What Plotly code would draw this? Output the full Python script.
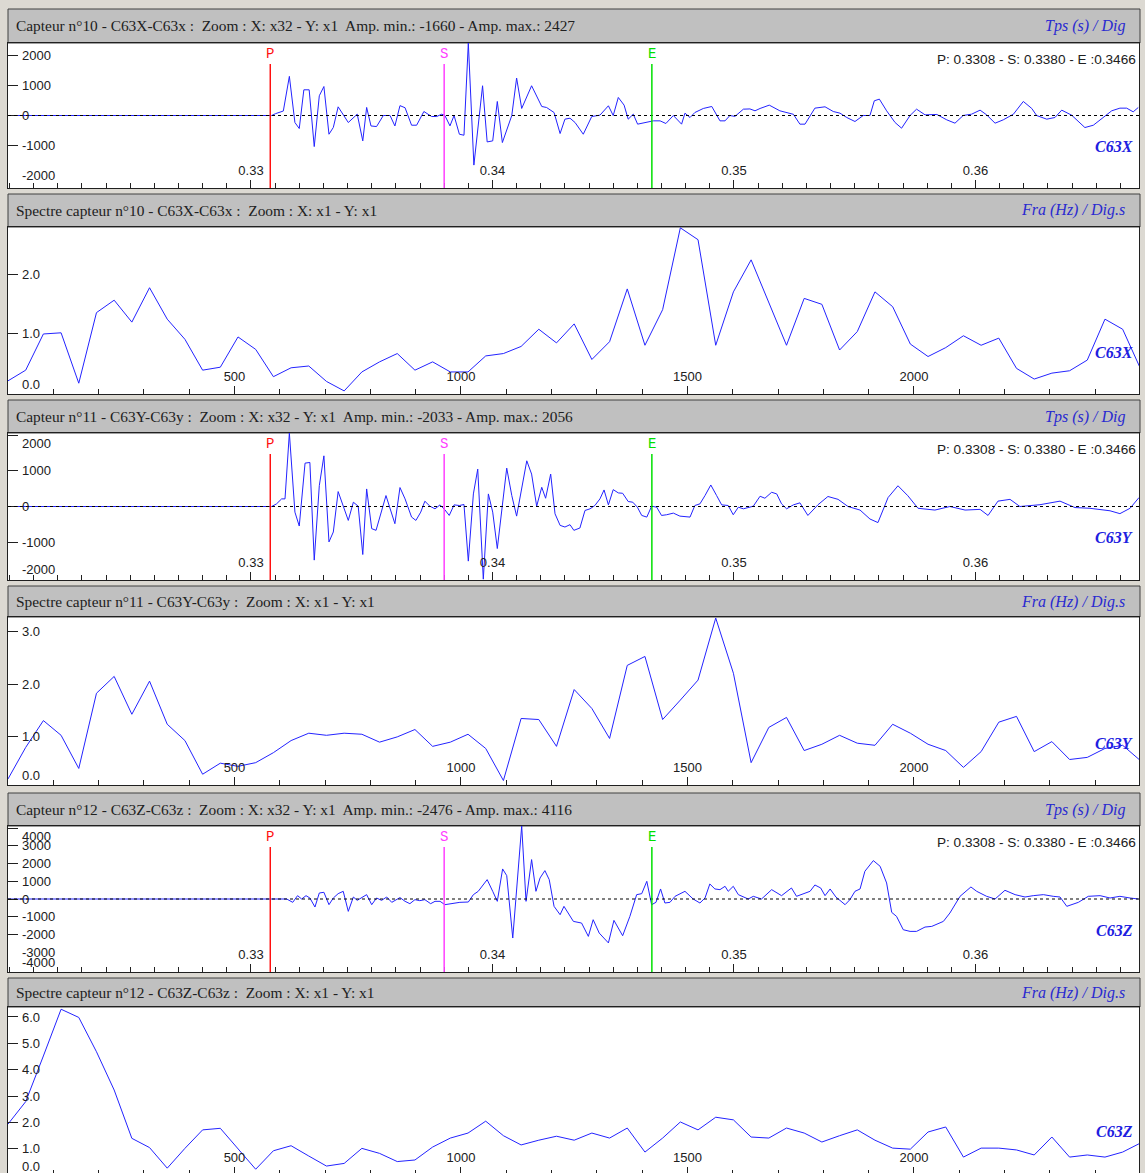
import plotly.graph_objects as go

# ------------------------------------------------------------------ data
PICK_P, PICK_S, PICK_E = 0.3308, 0.3380, 0.3466
T_START, T_END = 0.31994, 0.36677
T_REF = 0.330                      # time vertices below are in ms after T_REF

# sensor 10 (C63X) — vertex times (ms after 0.330 s) and amplitudes (digits)
x_t = [-10.06, 0.86, 1.01, 1.22, 1.34, 1.59, 1.82, 2.0, 2.19, 2.41, 2.62, 2.83, 3.02, 3.23, 3.41,
       3.61, 4.03, 4.40, 4.63, 4.79, 4.97, 5.2, 5.48, 5.76, 5.96, 6.17, 6.38, 6.65, 6.86, 7.16,
       7.48, 7.69, 7.90, 8.03, 8.24, 8.41, 8.63, 8.82, 9.0, 9.23, 9.41, 9.59, 9.78, 10.01, 10.2,
       10.41, 10.80, 11.0, 11.21, 11.62, 12.04, 12.24, 12.55, 12.80, 13.0, 13.21, 13.42, 13.76,
       14.11, 14.45, 14.80, 15.0, 15.21, 15.45, 15.62, 15.83, 16.01, 16.24, 16.66, 16.94, 17.18,
       17.49, 17.83, 17.97, 18.18, 18.38, 18.73, 19.08, 19.42, 19.63, 19.83, 20.04, 20.39, 20.66,
       20.87, 21.08, 21.46, 21.90, 22.11, 22.46, 22.73, 22.94, 23.35, 23.77, 24.11, 24.39, 24.67,
       25.01, 25.35, 25.63, 25.81, 26.02, 26.32, 26.67, 26.94, 27.29, 27.56, 27.91, 28.40, 28.81,
       29.15, 29.49, 29.84, 30.19, 30.46, 30.81, 31.15, 31.57, 31.98, 32.33, 32.53, 32.95, 33.29,
       33.57, 33.98, 34.53, 34.88, 35.29, 35.64, 35.98, 36.26, 36.53, 36.74]
x_amp = [0, 0, 60, 110, 150, 1310, -235, -436, 860, 860, -1040, 660, 970, -627, -400,
         290, -235, 45, -850, 270, -350, -370, 0, 0, -350, 330, 260, -325, -325, 134,
         -34, -34, 45, 0, -347, 0, -627, -660, 2427, -1660, -347, 996, -884, -850, 470,
         -906, 0, 1253, 235, 996, 302, 268, 100, -604, -123, -90, -235, -627,
         -34, 11, 325, 0, 604, 347, -123, 45, -290, -257, -179, -179, -268,
         0, -290, 78, -67, 100, 235, 302, -179, -179, 0, -30, 212, 220,
         157, 235, 347, 157, 110, 40, -290, -290, 246, 291, 134, 78, -67,
         -201, 0, 0, 492, 548, 157, -235, -425, 0, 212, 22, 34, -145,
         -257, 0, 45, 179, 22, -257, -145, 45, 470, 235, 0, -123, -67,
         179, 11, -403, -325, -67, 157, 246, 246, 123, 268]

# sensor 11 (C63Y)
y_t = [-10.06, 0.86, 1.06, 1.27, 1.41, 1.59, 1.82, 2.0, 2.24, 2.44, 2.62, 2.83, 3.02, 3.23, 3.41,
       3.61, 4.03, 4.24, 4.44, 4.63, 4.79, 5.0, 5.18, 5.59, 5.96, 6.17, 6.38, 6.65, 6.83, 7.03,
       7.2, 7.41, 7.62, 7.83, 8.03, 8.21, 8.41, 8.63, 8.82, 9.0, 9.21, 9.39, 9.62, 9.83, 10.01,
       10.2, 10.59, 10.80, 11.0, 11.42, 11.62, 11.83, 12.04, 12.2, 12.41, 12.59, 12.80, 13.0,
       13.21, 13.37, 13.62, 13.83, 14.04, 14.24, 14.45, 14.62, 14.80, 15.0, 15.21, 15.39, 15.62,
       15.81, 16.0, 16.18, 16.39, 16.59, 16.80, 17.0, 17.21, 17.49, 17.76, 18.18, 18.38, 18.59,
       18.80, 19.04, 19.28, 19.49, 19.76, 19.97, 20.18, 20.39, 20.80, 21.08, 21.28, 21.56, 21.77,
       21.97, 22.18, 22.46, 22.73, 23.06, 23.48, 23.89, 24.31, 24.72, 25.22, 25.63, 25.96, 26.38,
       26.79, 27.2, 27.62, 28.32, 28.94, 29.57, 30.19, 30.52, 30.93, 31.43, 31.84, 32.67, 33.5,
       34.12, 34.74, 35.57, 35.98, 36.40, 36.77]
y_amp = [0, 0, 74, 213, 213, 2056, -157, -546, 1213, 1232, -1500, 583, 1417, -991, -713,
         417, -389, 120, 9, -1343, 491, -620, -667, 306, -481, 530, 213, -296, -389, -157,
         148, 9, -65, 46, -93, -250, 46, 28, 56, -1528, 352, 1046, -2033, 352, -157,
         -1176, 1074, 306, -269, 1278, 907, 9, 537, 231, 907, -204, -528, -574,
         -509, -667, -602, -111, -65, 28, 213, 463, 46, 472, 380, 370, 139,
         120, -19, -250, -296, 9, -19, -250, -231, -185, -269, -296, 28, 74,
         306, 602, 306, 46, 28, -231, -19, -65, 9, 287, 231, 398, 352,
         74, -65, 46, 102, -250, 50, 280, 200, 0, -100, -350, -450, 250,
         580, 300, -50, -100, 0, -100, -80, -250, 150, 200, 0, 50, 150,
         -30, -50, -120, -200, -50, 250]

# sensor 12 (C63Z)
z_t = [-10.06, 0.86, 1.48, 1.73, 1.93, 2.10, 2.28, 2.44, 2.65, 2.83, 3.02, 3.23, 3.41, 3.61, 3.82,
       4.03, 4.24, 4.40, 4.58, 4.79, 5.0, 5.2, 5.41, 5.62, 5.83, 6.17, 6.38, 6.58, 6.79, 6.99,
       7.2, 7.44, 7.62, 7.83, 8.03, 8.38, 8.65, 9.0, 9.21, 9.41, 9.78, 10.01, 10.2, 10.42, 10.59,
       10.84, 11.0, 11.21, 11.39, 11.62, 11.80, 11.97, 12.17, 12.35, 12.55, 12.80, 12.96, 13.35,
       13.69, 13.97, 14.17, 14.42, 14.80, 15.03, 15.39, 15.69, 15.97, 16.18, 16.39, 16.59, 16.77,
       16.96, 17.14, 17.35, 17.56, 17.97, 18.31, 18.59, 18.80, 19.0, 19.21, 19.42, 19.63, 19.76,
       19.97, 20.18, 20.59, 20.80, 21.14, 21.56, 21.97, 22.38, 22.59, 22.86, 23.15, 23.35, 23.59,
       23.77, 23.98, 24.22, 24.60, 24.80, 25.01, 25.22, 25.42, 25.77, 26.05, 26.32, 26.53, 26.73,
       27.01, 27.29, 27.56, 27.91, 28.19, 28.67, 28.94, 29.36, 29.81, 30.05, 30.46, 30.81, 31.22,
       31.64, 32.05, 32.39, 32.81, 33.22, 33.5, 33.78, 34.26, 34.67, 35.16, 35.57, 35.98, 36.40,
       36.74]
z_amp = [0, 0, 0, -188, 188, 0, 188, 56, -452, 339, 377, -320, 56, 301, 433,
         -697, 113, -75, 56, 245, -320, 56, -75, 113, -188, 80, -132, -264, -38, -94,
         -38, -264, -132, -132, -320, -226, -188, -170, 245, 433, 1092, 433, -132, 1695, 1318,
         -2200, 716, 4116, -132, 2222, 433, 1186, 1601, 1092, -414, -885, -414, -1262,
         -1356, -2109, -1167, -1921, -2476, -1205, -2071, -979, 245, 301, 998, -320, -188,
         565, -226, -188, 151, 433, 0, -226, 56, 847, 565, 527, 716, 433,
         716, 245, 0, 150, 0, 527, 188, 621, 151, 282, 433, 791, 621,
         188, 565, 113, -320, -38, 433, 565, 1563, 2165, 1845, 904, -753, -979,
         -1732, -1826, -1826, -1582, -1544, -1262, -791, 151, 678, 433, 151, 0, 490,
         245, 113, 188, 245, 151, 113, -414, -188, 151, 188, 56, 151, 56,
         0]

# spectra: 65 bins, 5000 Hz sampling / 128 points
FREQ_STEP = 5000 / 128
spec_x = [0.20, 0.38, 0.99, 1.01, 0.16, 1.35, 1.56, 1.19, 1.77, 1.24, 0.90, 0.38, 0.43, 0.94, 0.73,
          0.27, 0.42, 0.45, 0.19, 0.03, 0.35, 0.52, 0.66, 0.38, 0.52, 0.35, 0.35, 0.62, 0.66, 0.78,
          1.07, 0.84, 1.16, 0.56, 0.86, 1.75, 0.80, 1.40, 2.78, 2.58, 0.80, 1.70, 2.24, 1.51, 0.80,
          1.59, 1.49, 0.72, 1.03, 1.70, 1.45, 0.82, 0.61, 0.76, 0.96, 0.80, 0.92, 0.41, 0.23, 0.33,
          0.37, 0.55, 1.24, 1.07, 0.41]
spec_y = [0.20, 0.80, 1.31, 1.03, 0.40, 1.83, 2.15, 1.43, 2.06, 1.24, 0.93, 0.29, 0.50, 0.44, 0.51,
          0.70, 0.93, 1.07, 1.03, 1.07, 1.05, 0.90, 1.00, 1.14, 0.82, 0.90, 1.05, 0.78, 0.17, 1.35,
          1.33, 0.82, 1.90, 1.54, 0.97, 2.36, 2.53, 1.33, 1.70, 2.08, 3.26, 2.21, 0.51, 1.18, 1.37,
          0.74, 0.86, 1.03, 0.88, 0.84, 1.24, 1.07, 0.86, 0.74, 0.42, 0.72, 1.28, 1.39, 0.72, 0.91,
          0.57, 0.61, 0.78, 0.84, 0.55]
spec_z = [1.94, 2.79, 4.52, 6.29, 5.98, 4.68, 3.23, 1.40, 1.05, 0.27, 1.02, 1.72, 1.78, 0.99, 0.23,
          0.93, 1.12, 0.73, 0.35, 0.45, 1.02, 0.83, 0.52, 0.58, 1.07, 1.41, 1.60, 2.05, 1.50, 1.15,
          1.33, 1.48, 1.33, 1.60, 1.41, 1.79, 0.88, 1.41, 2.02, 1.72, 2.20, 2.10, 1.45, 1.41, 1.79,
          1.60, 1.26, 1.50, 1.72, 1.33, 1.03, 0.99, 1.64, 1.83, 0.69, 1.03, 1.03, 0.96, 0.77, 1.45,
          0.69, 0.77, 0.69, 0.88, 1.22]

# header captions
time_titles = [
    "Capteur n°10 - C63X-C63x :  Zoom : X: x32 - Y: x1  Amp. min.: -1660 - Amp. max.: 2427",
    "Capteur n°11 - C63Y-C63y :  Zoom : X: x32 - Y: x1  Amp. min.: -2033 - Amp. max.: 2056",
    "Capteur n°12 - C63Z-C63z :  Zoom : X: x32 - Y: x1  Amp. min.: -2476 - Amp. max.: 4116",
]
spec_titles = [
    "Spectre capteur n°10 - C63X-C63x :  Zoom : X: x1 - Y: x1",
    "Spectre capteur n°11 - C63Y-C63y :  Zoom : X: x1 - Y: x1",
    "Spectre capteur n°12 - C63Z-C63z :  Zoom : X: x1 - Y: x1",
]
channels = ["C63X", "C63Y", "C63Z"]
amp_limits = [2427, 2056, 4116]
time_ticks = [0.33, 0.34, 0.35, 0.36]
freq_ticks = [500, 1000, 1500, 2000]

# ------------------------------------------------------------------ layout helpers
W, H = 1145, 1173
LEFT, RIGHT = 8, 1139


def px_x(p):
    return p / W


def px_y(p):
    return 1 - p / H


# (header top, plot top, plot bottom, lowest label centre) in pixels for the six panels
panels = [(9, 43, 188, 178), (194, 227, 394, 384), (400, 433, 580, 570),
          (586, 617, 785, 775), (793, 826, 972, 962), (978, 1007, 1173, 1166)]

spec_ranges = [(-0.022, 2.794), (0.085, 3.28), (0.087, 6.375)]

TRACE = dict(color="#2323ff", width=1)
AXIS_COL = "#202020"
TICK_FONT = dict(family="Liberation Sans, Arial", size=13, color="#202020")
HEAD_FONT = dict(family="Liberation Serif, Times New Roman", size=15.4, color="#202020")
UNIT_FONT = dict(family="Liberation Serif, Times New Roman", size=16, color="#2a2ad0", style="italic")
CHAN_FONT = dict(family="Liberation Serif, Times New Roman", size=16, color="#2020e0",
                 style="italic", weight="bold")
PICK_FONT = dict(family="Liberation Mono, Courier New", size=14)

fig = go.Figure()
shapes, annots = [], []
layout = {}

time_series = [(x_t, x_amp), (y_t, y_amp), (z_t, z_amp)]
spectra = [spec_x, spec_y, spec_z]
freqs = [k * FREQ_STEP for k in range(len(spec_x))]


def y_labels(ya, vals, texts, lo, hi, ptop, pbot, low_label):
    """Left-axis tick labels, kept inside the plot frame like the original display."""
    for v, t in zip(vals, texts):
        p = pbot - (v - lo) / (hi - lo) * (pbot - ptop)
        a = dict(xref="paper", x=px_x(20), xanchor="left", yanchor="middle",
                 showarrow=False, text=t, font=TICK_FONT)
        if p < ptop + 10:
            a.update(yref=f"{ya} domain", y=1, yshift=-10)
        elif p > low_label:
            a.update(yref=f"{ya} domain", y=0, yshift=pbot - low_label)
        else:
            a.update(yref=ya, y=v)
        annots.append(a)


for i in range(6):
    n = i + 1
    xa = "x" if n == 1 else f"x{n}"
    ya = "y" if n == 1 else f"y{n}"
    xkey = "xaxis" if n == 1 else f"xaxis{n}"
    ykey = "yaxis" if n == 1 else f"yaxis{n}"
    htop, ptop, pbot, low_label = panels[i]
    ch = i // 2
    is_time = (i % 2 == 0)

    # header bar
    shapes.append(dict(type="rect", xref="paper", yref="paper",
                       x0=px_x(LEFT), x1=px_x(RIGHT + 1), y0=px_y(ptop), y1=px_y(htop),
                       fillcolor="#c0c0c0", line=dict(color="#404040", width=1), layer="below"))
    hmid = px_y((htop + ptop) / 2)
    annots.append(dict(xref="paper", yref="paper", x=px_x(14), y=hmid, xanchor="left",
                       yanchor="middle", showarrow=False,
                       text=time_titles[ch] if is_time else spec_titles[ch], font=HEAD_FONT))
    annots.append(dict(xref="paper", yref="paper", x=px_x(1127), y=hmid, xanchor="right",
                       yanchor="middle", showarrow=False,
                       text="Tps (s) / Dig" if is_time else "Fra (Hz) / Dig.s", font=UNIT_FONT))

    common_x = dict(domain=[px_x(LEFT), px_x(RIGHT)], anchor=ya, showline=True, mirror=True,
                    linecolor=AXIS_COL, linewidth=1, ticks="inside", tickcolor=AXIS_COL,
                    ticklabelposition="inside", ticklabelstandoff=2, tickfont=TICK_FONT,
                    showgrid=False, zeroline=False, fixedrange=True)
    common_y = dict(domain=[px_y(pbot), px_y(ptop)], anchor=xa, showline=True, mirror=True,
                    linecolor=AXIS_COL, linewidth=1, ticks="inside", ticklen=10,
                    tickcolor=AXIS_COL, showticklabels=False,
                    showgrid=False, zeroline=False, fixedrange=True)

    if is_time:
        tt, aa = time_series[ch]
        fig.add_trace(go.Scatter(x=[T_REF + v / 1000 for v in tt], y=aa, mode="lines",
                                 line=TRACE, xaxis=xa, yaxis=ya, hoverinfo="skip"))
        lim = amp_limits[ch]
        top_tick = (lim // 1000) * 1000
        yvals = list(range(-top_tick, top_tick + 1, 1000))
        layout[xkey] = dict(common_x, range=[T_START, T_END], tickvals=time_ticks,
                            tickformat=".2f", ticklen=8,
                            minor=dict(ticks="inside", ticklen=5, dtick=0.001, tick0=0.33,
                                       tickcolor=AXIS_COL))
        layout[ykey] = dict(common_y, range=[-lim, lim], tickvals=yvals)
        y_labels(ya, yvals, [str(v) for v in yvals], -lim, lim, ptop, pbot, low_label)
        # dashed zero line
        shapes.append(dict(type="line", xref=f"{xa} domain", yref=ya, x0=0, x1=1, y0=0, y1=0,
                           line=dict(color="black", width=1, dash="3px,3px"), layer="above"))
        # phase picks
        frac = 1 - 21 / (pbot - ptop)
        lab = 1 - 11 / (pbot - ptop)
        for name, t, col in (("P", PICK_P, "#ff1010"), ("S", PICK_S, "#ff40ff"),
                             ("E", PICK_E, "#00e000")):
            shapes.append(dict(type="line", xref=xa, yref=f"{ya} domain", x0=t, x1=t,
                               y0=0, y1=frac, line=dict(color=col, width=1.5), layer="above"))
            annots.append(dict(xref=xa, yref=f"{ya} domain", x=t, y=lab, showarrow=False,
                               xanchor="center", yanchor="middle", text=name,
                               font=dict(PICK_FONT, color=col)))
        annots.append(dict(xref="paper", yref=f"{ya} domain", x=px_x(1138), y=1, yshift=-16,
                           xanchor="right", yanchor="middle", showarrow=False,
                           text=f"P: {PICK_P:.4f} - S: {PICK_S:.4f} - E :{PICK_E:.4f}",
                           font=dict(family="Liberation Sans, Arial", size=13.6, color="#202020")))
    else:
        vals = spectra[ch]
        fig.add_trace(go.Scatter(x=freqs, y=vals, mode="lines", line=TRACE,
                                 xaxis=xa, yaxis=ya, hoverinfo="skip"))
        lo, hi = spec_ranges[ch]
        yvals = list(range(0, int(hi) + 1))
        layout[xkey] = dict(common_x, range=[0, 2497], tickvals=freq_ticks,
                            ticklen=8 if ch < 2 else 6,
                            minor=dict(ticks="inside", ticklen=5 if ch < 2 else 3, dtick=100,
                                       tick0=0, tickcolor=AXIS_COL))
        layout[ykey] = dict(common_y, range=[lo, hi], tickvals=yvals)
        y_labels(ya, yvals, [f"{v:.1f}" for v in yvals], lo, hi, ptop, pbot, low_label)

    annots.append(dict(xref="paper", yref=f"{ya} domain", x=px_x(1135), y=0, yshift=42,
                       xanchor="right", yanchor="middle", showarrow=False,
                       text=channels[ch], font=CHAN_FONT))

fig.update_layout(
    width=W, height=H, margin=dict(l=0, r=0, t=0, b=0),
    paper_bgcolor="#dcd9d2", plot_bgcolor="white", showlegend=False,
    shapes=shapes, annotations=annots, **layout,
)

fig.write_html("out.html")
